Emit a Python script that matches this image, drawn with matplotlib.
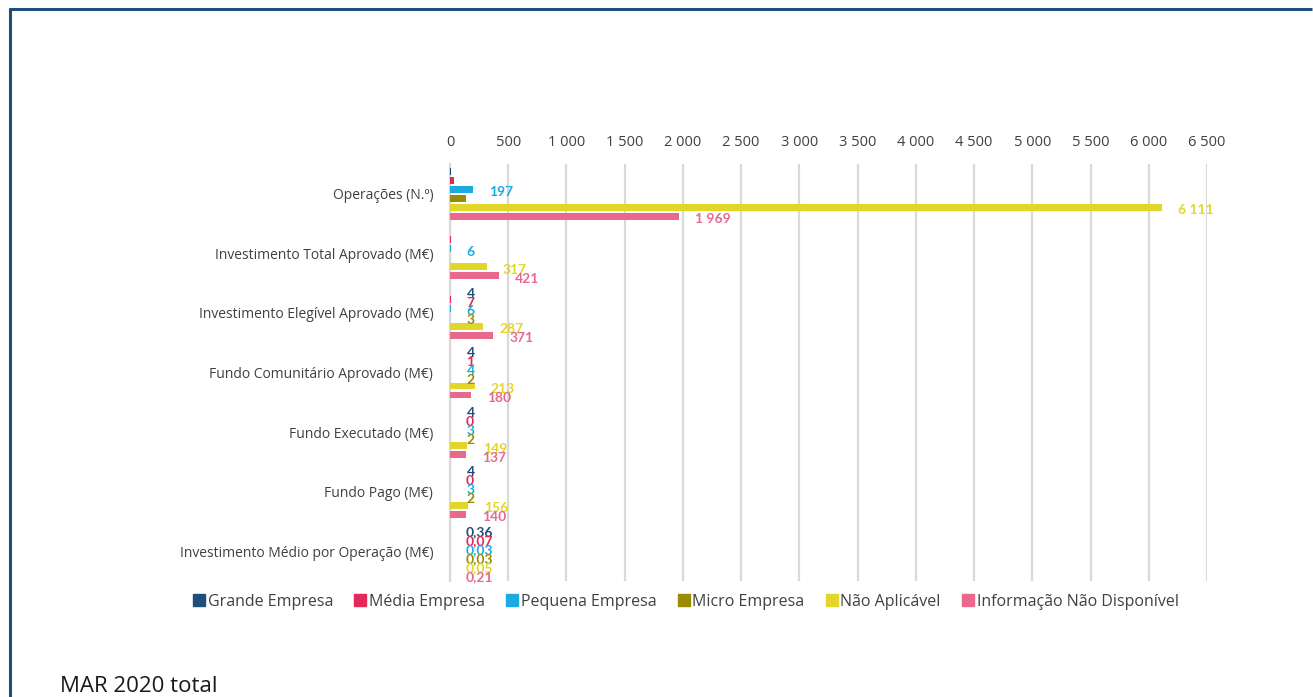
import matplotlib
matplotlib.use("Agg")
import matplotlib.pyplot as plt
from matplotlib.lines import Line2D
import numpy as np

# categorias (de cima para baixo)
categorias = ["Operações (N.º)", "Investimento Total Aprovado (M€)",
              "Investimento Elegível Aprovado (M€)", "Fundo Comunitário Aprovado (M€)",
              "Fundo Executado (M€)", "Fundo Pago (M€)",
              "Investimento Médio por Operação (M€)"]

series = ["Grande Empresa", "Média Empresa", "Pequena Empresa", "Micro Empresa",
          "Não Aplicável", "Informação Não Disponível"]

grande = [8, 3, 4, 4, 4, 4, 0.36]
media = [32, 8, 7, 1, 0, 0, 0.07]
pequena = [197, 6, 6, 4, 3, 3, 0.03]
micro = [137, 4, 3, 2, 2, 2, 0.03]
nao_aplicavel = [6111, 317, 287, 213, 149, 156, 0.05]
info_nd = [1969, 421, 371, 180, 137, 140, 0.21]

# que rótulos aparecem no original
mostrar = [
    [False, False, True, False, True, True],
    [False, False, True, False, True, True],
    [True] * 6, [True] * 6, [True] * 6, [True] * 6, [True] * 6,
]

cores = ["#1F4E79", "#E5285A", "#1AACE0", "#998C00", "#E3D62B", "#E8698C"]

xticks = np.arange(0, 6501, 500)


def fmt(v):
    if v < 1 and v != 0:
        return f"{v:.2f}".replace(".", ",")
    return f"{int(round(v)):,}".replace(",", " ")


plt.rcParams["font.family"] = ["Open Sans", "DejaVu Sans"]

fig = plt.figure(figsize=(13.13, 6.97), dpi=100)
ax = fig.add_axes([0.3427, 0.1664, 0.5766, 0.5983])

valores = [grande, media, pequena, micro, nao_aplicavel, info_nd]
y = np.arange(len(categorias))
slot = 0.151
h = 0.117
for i, (nome, vals, cor) in enumerate(zip(series, valores, cores)):
    pos = y + (i - 2.5) * slot
    ax.barh(pos, vals, height=h, color=cor, label=nome, zorder=3)
    for j, v in enumerate(vals):
        if mostrar[j][i]:
            ax.annotate(fmt(v), (v, pos[j]), xytext=(11.5, -2.2),
                        textcoords="offset points", ha="left", va="center",
                        color=cor, fontsize=10, fontweight="bold",
                        family=["Lato", "DejaVu Sans"], zorder=4)

ax.set_xlim(0, 6500)
ax.set_ylim(len(categorias) - 0.5, -0.5)
ax.set_xticks(xticks)
ax.set_xticklabels([fmt(t) for t in xticks])
ax.xaxis.tick_top()
ax.set_yticks(y)
ax.set_yticklabels(categorias)
ax.tick_params(axis="x", length=0, pad=10, labelsize=10.5, colors="#404040")
ax.tick_params(axis="y", length=0, pad=12, labelsize=10, colors="#404040")
ax.grid(axis="x", color="#D9D9D9", linewidth=1.6, zorder=0)
for s in ["top", "right", "bottom"]:
    ax.spines[s].set_visible(False)
ax.spines["left"].set_color("#D9D9D9")
ax.spines["left"].set_linewidth(1.6)

handles = [Line2D([], [], marker="s", linestyle="none", markersize=8.5,
                  markerfacecolor=c, markeredgecolor=c) for c in cores]
fig.legend(handles, series, loc="center", bbox_to_anchor=(0.5228, 0.137),
           ncol=6, frameon=False, handlelength=0.6, handletextpad=0.25,
           columnspacing=1.4, fontsize=11.5, labelcolor="#404040")

# moldura azul (topo e esquerda)
fig.add_artist(Line2D([9 / 1313, 1312 / 1313], [1 - 9 / 697, 1 - 9 / 697],
                      color="#1F4E79", linewidth=2.2, solid_capstyle="butt",
                      transform=fig.transFigure))
fig.add_artist(Line2D([10 / 1313, 10 / 1313], [0, 1 - 8 / 697],
                      color="#1F4E79", linewidth=2.2, solid_capstyle="butt",
                      transform=fig.transFigure))

fig.text(60 / 1313, 1 - 686 / 697, "MAR 2020 total", fontsize=16,
         color="#1A1A1A", ha="left", va="center")

fig.savefig("out.png", dpi=100)
